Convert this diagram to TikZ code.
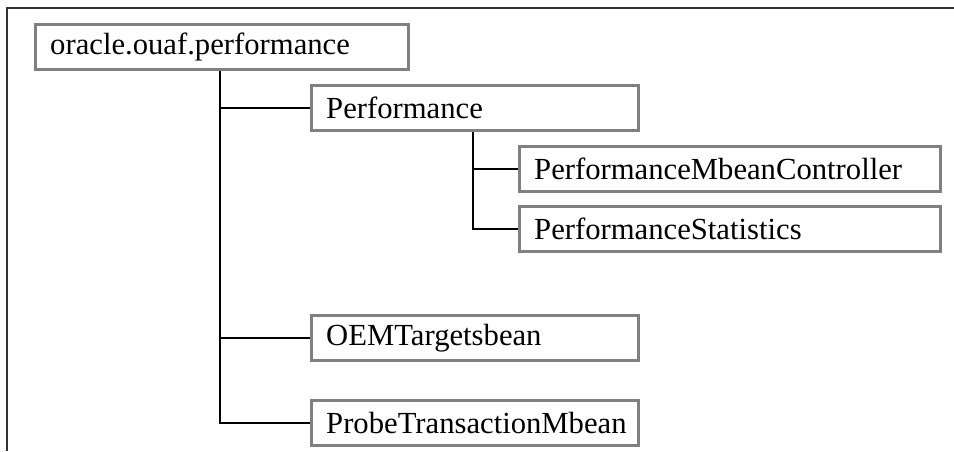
\documentclass[tikz,border=0pt]{standalone}
\usepackage{fontspec}
\setmainfont{Liberation Serif}
\definecolor{boxgray}{RGB}{128,128,128}
\definecolor{framegray}{RGB}{50,50,50}
\tikzset{
  pkgbox/.style={draw=boxgray, line width=2.6pt, anchor=north west, minimum height=33.75pt,
    inner xsep=11.25pt, inner ysep=0pt, align=left, font=\fontsize{23}{27}\selectfont},
  link/.style={draw=black, line width=1.5pt},
}
\begin{document}
\begin{tikzpicture}[x=0.75pt,y=0.75pt,yscale=-1,xscale=1]
            \useasboundingbox (0,0) rectangle (954,451);
            % outer frame, open at right and bottom
            \draw [framegray, line width=1.6pt]  (7,451) -- (7,8) -- (954,8) ;
            % packages and classes
            \node (root) [pkgbox, text width=257.25pt] at (33.5,23) {oracle.ouaf.performance};
            \node (perf) [pkgbox, text width=222.75pt] at (309.5,83.5) {Performance};
            \node (ctrl) [pkgbox, text width=293.25pt] at (517.5,144.5) {PerformanceMbeanController};
            \node (stat) [pkgbox, text width=293.25pt] at (517.5,204.5) {PerformanceStatistics};
            \node (oem) [pkgbox, text width=222.75pt] at (309.5,313.5) {OEMTargetsbean};
            \node (probe) [pkgbox, text width=222.75pt] at (309.5,398.5) {ProbeTransactionMbean};
            \coordinate (trunk) at (220,0);
            \coordinate (subtrunk) at (473,0);
            % tree lines
            \draw [link]  (root.south -| trunk) |- (perf.west) ;
            \draw [link]  (root.south -| trunk) |- (oem.west) ;
            \draw [link]  (root.south -| trunk) |- (probe.west) ;
            \draw [link]  (perf.south -| subtrunk) |- (ctrl.west) ;
            \draw [link]  (perf.south -| subtrunk) |- (stat.west) ;
\end{tikzpicture}
\end{document}
